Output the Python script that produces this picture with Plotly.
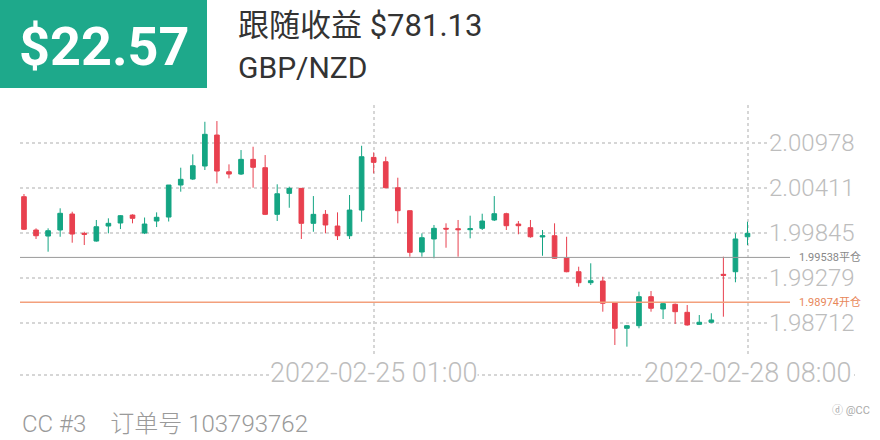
import pandas as pd
import plotly.graph_objects as go

# ---- data ----
times = [t.strftime("%Y-%m-%d %H:%M") for t in pd.date_range("2022-02-23 20:00", "2022-02-26 05:00", freq="h")]
times += ["2022-02-28 06:00", "2022-02-28 07:00", "2022-02-28 08:00"]

open_ = [2.00302, 1.99883, 1.99807, 1.99883, 2.00084, 1.99841, 1.99744, 1.99933, 1.99971, 2.00071,
         1.99845, 1.99996, 2.00046, 2.00449, 2.00524, 2.00688, 2.01078, 2.00616, 2.00587, 2.00772,
         2.00667, 2.00080, 2.00344, 2.00407, 1.99967, 2.00080, 1.99933, 1.99811, 2.00134, 2.00797,
         2.00742, 2.00415, 2.00126, 1.99606, 1.99770, 1.99904, 1.99899, 1.99887, 1.99904, 2.00009,
         2.00088, 1.99958, 1.99912, 1.99795, 1.99811, 1.99534, 1.99358, 1.99220, 1.99241, 1.98968,
         1.98646, 1.98679, 1.99044, 1.98889, 1.98948, 1.98847, 1.98696, 1.98722, 1.99325, 1.99358,
         1.99798]
high = [2.00336, 1.99904, 1.99904, 2.00156, 2.00113, 1.99861, 2.00009, 2.00030, 2.00071, 2.00080,
        2.00040, 2.00105, 2.00449, 2.00667, 2.00835, 2.01245, 2.01254, 2.00709, 2.00889, 2.00931,
        2.00826, 2.00458, 2.00428, 2.00411, 2.00310, 2.00134, 2.00105, 2.00323, 2.00943, 2.00860,
        2.00805, 2.00541, 2.00128, 1.99841, 1.99946, 1.99967, 2.00009, 2.00063, 2.00088, 2.00310,
        2.00100, 1.99996, 2.00009, 1.99883, 1.99967, 1.99798, 1.99421, 1.99464, 1.99295, 1.98971,
        1.98688, 1.99107, 1.99115, 1.98968, 1.98958, 1.98939, 1.98813, 1.98835, 1.99547, 1.99841,
        1.99987]
low = [1.99883, 1.99770, 1.99610, 1.99798, 1.99723, 1.99694, 1.99736, 1.99841, 1.99895, 1.99967,
       1.99832, 1.99920, 1.99990, 2.00365, 2.00512, 2.00638, 2.00470, 2.00533, 2.00575, 2.00415,
       2.00071, 1.99996, 2.00163, 1.99770, 1.99861, 1.99841, 1.99757, 1.99770, 1.99987, 2.00596,
       2.00407, 1.99967, 1.99547, 1.99547, 1.99527, 1.99660, 1.99547, 1.99778, 1.99883, 1.99996,
       1.99883, 1.99829, 1.99786, 1.99559, 1.99518, 1.99351, 1.99170, 1.99191, 1.98855, 1.98436,
       1.98415, 1.98646, 1.98855, 1.98763, 1.98700, 1.98679, 1.98688, 1.98709, 1.98792, 1.99225,
       1.99694]
close = [1.99892, 1.99811, 1.99874, 2.00093, 1.99832, 1.99829, 1.99924, 1.99967, 2.00063, 2.00030,
         1.99958, 2.00043, 2.00449, 2.00521, 2.00692, 2.01087, 2.00625, 2.00587, 2.00772, 2.00672,
         2.00080, 2.00339, 2.00407, 1.99967, 2.00080, 1.99946, 1.99811, 2.00134, 2.00805, 2.00734,
         2.00415, 2.00126, 1.99602, 1.99786, 1.99904, 1.99895, 1.99887, 1.99899, 1.99996, 2.00088,
         1.99937, 1.99937, 1.99798, 1.99811, 1.99527, 1.99358, 1.99220, 1.99245, 1.98961, 1.98646,
         1.98679, 1.99044, 1.98898, 1.98956, 1.98855, 1.98688, 1.98722, 1.98751, 1.99313, 1.99770,
         1.99841]

y_ticks = [2.00978, 2.00411, 1.99845, 1.99279, 1.98712]
x_ticks = ["2022-02-25 01:00", "2022-02-28 08:00"]
close_price = 1.99538
open_price = 1.98974

GREEN = "#14A583"
RED = "#E8404F"
FONT = "Roboto, 'Noto Sans CJK SC', sans-serif"

fig = go.Figure()
fig.add_trace(go.Candlestick(
    x=times, open=open_, high=high, low=low, close=close,
    increasing=dict(line=dict(color=GREEN, width=1), fillcolor=GREEN),
    decreasing=dict(line=dict(color=RED, width=1), fillcolor=RED),
    whiskerwidth=0, showlegend=False, hoverinfo="skip",
))

L, R, T, B = 20, 112, 105, 85
PW, PH = 880 - L - R, 440 - T - B

def px(xp):
    return (xp - L) / PW

def py(yp):
    return (440 - B - yp) / PH

shapes = [
    # header box
    dict(type="rect", xref="paper", yref="paper", x0=px(0), x1=px(207), y0=py(88), y1=py(0),
         fillcolor="#1EA98B", line=dict(width=0), layer="below"),
    # position lines
    dict(type="line", xref="paper", yref="y", x0=0, x1=px(790), y0=close_price, y1=close_price,
         line=dict(color="#9A9A9A", width=1)),
    dict(type="line", xref="paper", yref="y", x0=0, x1=px(790), y0=open_price, y1=open_price,
         line=dict(color="#F3A07C", width=1.5)),
    # bottom dotted axis line
    dict(type="line", xref="paper", yref="paper", x0=0, x1=px(855), y0=py(375), y1=py(375),
         line=dict(color="#D6D6D6", width=2, dash="dot"), layer="below"),
    # right-edge clip of the top tick label
    dict(type="rect", xref="paper", yref="paper", x0=px(859), x1=px(880), y0=py(160), y1=py(125),
         fillcolor="white", line=dict(width=0), layer="above"),
]

annotations = [
    dict(text="<b>$22.57</b>", xref="paper", yref="paper", x=px(104), y=py(46),
         xanchor="center", yanchor="middle", showarrow=False,
         font=dict(family=FONT, size=54, color="white")),
    dict(text="跟随收益 $781.13", xref="paper", yref="paper", x=px(236), y=py(26),
         xanchor="left", yanchor="middle", showarrow=False,
         font=dict(family=FONT, size=31, color="#333333")),
    dict(text="GBP/NZD", xref="paper", yref="paper", x=px(236), y=py(67),
         xanchor="left", yanchor="middle", showarrow=False,
         font=dict(family=FONT, size=30, color="#333333")),
    dict(text="1.99538平仓", xref="paper", yref="y", x=px(797), y=close_price,
         xanchor="left", yanchor="middle", showarrow=False,
         font=dict(family=FONT, size=11, color="#888888")),
    dict(text="1.98974开仓", xref="paper", yref="y", x=px(797), y=open_price,
         xanchor="left", yanchor="middle", showarrow=False,
         font=dict(family=FONT, size=11, color="#E8875A")),
    dict(text="CC #3　订单号 103793762", xref="paper", yref="paper", x=px(20), y=py(424),
         xanchor="left", yanchor="middle", showarrow=False,
         font=dict(family=FONT, size=24, color="#9A9A9A", weight=300)),
    dict(text="ⓓ @CC", xref="paper", yref="paper", x=px(872), y=py(410),
         xanchor="right", yanchor="middle", showarrow=False,
         font=dict(family=FONT, size=11, color="#AAAAAA")),
]
for t in x_ticks:
    annotations.append(dict(text=t, xref="x", yref="paper", x=t, y=py(373),
                            xanchor="center", yanchor="middle", showarrow=False,
                            bgcolor="white", borderpad=0,
                            font=dict(family=FONT, size=27, color="#BDBDBD", weight=300)))

fig.update_layout(
    width=880, height=440,
    margin=dict(l=L, r=R, t=T, b=B),
    paper_bgcolor="white", plot_bgcolor="white",
    boxgap=0.45,
    shapes=shapes, annotations=annotations,
    xaxis=dict(type="category", categoryorder="array", categoryarray=times,
               range=[-0.33, 61.7], rangeslider=dict(visible=False),
               tickvals=x_ticks, showticklabels=False,
               showgrid=True, gridcolor="#D6D6D6", gridwidth=2, griddash="dot",
               showline=False, zeroline=False, fixedrange=True),
    yaxis=dict(side="right", range=[1.98310, 2.01456], tickvals=y_ticks,
               ticktext=[f"{v:.5f}" for v in y_ticks],
               showgrid=True, gridcolor="#D6D6D6", gridwidth=2, griddash="dot",
               tickfont=dict(family=FONT, size=24, color="#BDBDBD", weight=300),
               showline=False, zeroline=False, ticks="", fixedrange=True),
)

fig.write_html("out.html", config={"displayModeBar": False},
               post_script="document.body.style.margin='0';document.body.style.overflow='hidden';")
